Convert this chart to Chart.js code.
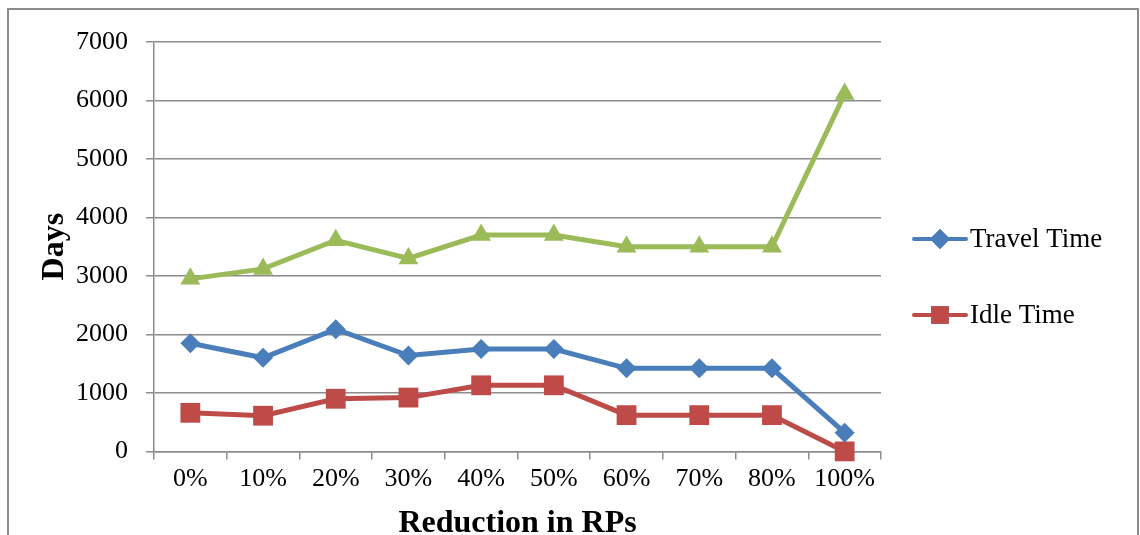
<!DOCTYPE html>
<html lang="en">
  <head>
    <meta charset="UTF-8">
    <title>Days vs Reduction in RPs</title>
    <script src="https://cdn.jsdelivr.net/npm/chart.js"></script>
    <style>
      body { margin: 0; background: #fff; }
      #frame {
        position: absolute; left: 7px; top: 8px; width: 1132px; height: 600px;
        border: 2px solid #8c8c8c; box-sizing: border-box;
      }
      #wrap { position: absolute; left: 0; top: 0; width: 1140px; height: 535px; }
    </style>
  </head>
  <body>
    <div id="frame"></div>
    <div id="wrap"><canvas id="lineGraph"></canvas></div>
    <script>
      const categories = ['0%', '10%', '20%', '30%', '40%', '50%', '60%', '70%', '80%', '100%'];
      const travelTime = [1850, 1600, 2090, 1640, 1750, 1750, 1420, 1420, 1420, 320];
      const idleTime = [660, 610, 900, 920, 1130, 1130, 620, 620, 620, 0];
      const totalTime = [2950, 3120, 3610, 3300, 3700, 3700, 3500, 3500, 3500, 6110];
      const yTicks = [0, 1000, 2000, 3000, 4000, 5000, 6000, 7000];

      const serif = "'Liberation Serif', 'Times New Roman', serif";

      // legend drawn as line + marker, like the office chart
      const sideLegend = {
        id: 'sideLegend',
        afterDraw(chart) {
          const ctx = chart.ctx;
          const items = [{ ds: 0, y: 239 }, { ds: 1, y: 315 }];
          items.forEach(it => {
            const ds = chart.data.datasets[it.ds];
            ctx.save();
            ctx.strokeStyle = ds.borderColor;
            ctx.lineWidth = 4;
            ctx.lineCap = 'round';
            ctx.beginPath();
            ctx.moveTo(914, it.y);
            ctx.lineTo(966, it.y);
            ctx.stroke();
            Chart.helpers.drawPoint(ctx, {
              pointStyle: ds.pointStyle, radius: ds.legendRadius, borderWidth: 0
            }, 940, it.y);
            ctx.fillStyle = ds.backgroundColor;
            ctx.fill();
            ctx.fillStyle = '#000';
            ctx.font = '27px ' + serif;
            ctx.textBaseline = 'middle';
            ctx.fillText(ds.label, 970, it.y + 1);
            ctx.restore();
          });
        }
      };

      new Chart(document.getElementById('lineGraph'), {
        type: 'line',
        data: {
          labels: categories,
          datasets: [{
            label: 'Travel Time',
            data: travelTime,
            borderColor: '#4a7ebb',
            backgroundColor: '#4a7ebb',
            borderWidth: 5,
            pointStyle: 'rectRot',
            pointRadius: 10,
            legendRadius: 10,
            pointBorderWidth: 0,
            clip: false
          }, {
            label: 'Idle Time',
            data: idleTime,
            borderColor: '#be4b48',
            backgroundColor: '#be4b48',
            borderWidth: 5,
            pointStyle: 'rect',
            pointRadius: 14,
            legendRadius: 12.5,
            pointBorderWidth: 0,
            clip: false
          }, {
            label: 'Total',
            data: totalTime,
            borderColor: '#9bbb59',
            backgroundColor: '#9bbb59',
            borderWidth: 5,
            pointStyle: 'triangle',
            pointRadius: 11.5,
            pointBorderWidth: 0,
            clip: false
          }]
        },
        options: {
          responsive: true,
          maintainAspectRatio: false,
          animation: false,
          layout: { padding: { left: 36, right: 259, top: 42, bottom: -8 } },
          plugins: { legend: { display: false }, tooltip: { enabled: false } },
          scales: {
            x: {
              offset: true,
              grid: { offset: true, drawOnChartArea: false, drawTicks: true, tickLength: 8, color: '#8c8c8c', lineWidth: 1.5 },
              border: { color: '#8c8c8c', width: 1.5 },
              ticks: { color: '#000', font: { family: serif, size: 26 }, padding: 4, maxRotation: 0 },
              title: { display: true, text: 'Reduction in RPs', color: '#000', font: { family: serif, size: 32, weight: 'bold' }, padding: { top: 6, bottom: 0 } }
            },
            y: {
              min: 0, max: 7000,
              afterBuildTicks: axis => { axis.ticks = yTicks.map(v => ({ value: v })); },
              afterFit: axis => { axis.width = 118; },
              grid: { color: '#8c8c8c', lineWidth: 1.5, tickLength: 8 },
              border: { color: '#8c8c8c', width: 1.5 },
              ticks: { color: '#000', font: { family: serif, size: 26 }, padding: 18, callback: v => String(v) },
              title: { display: true, text: 'Days', color: '#000', font: { family: serif, size: 32, weight: 'bold' }, padding: 0 }
            }
          }
        },
        plugins: [sideLegend]
      });
    </script>
  </body>
</html>
